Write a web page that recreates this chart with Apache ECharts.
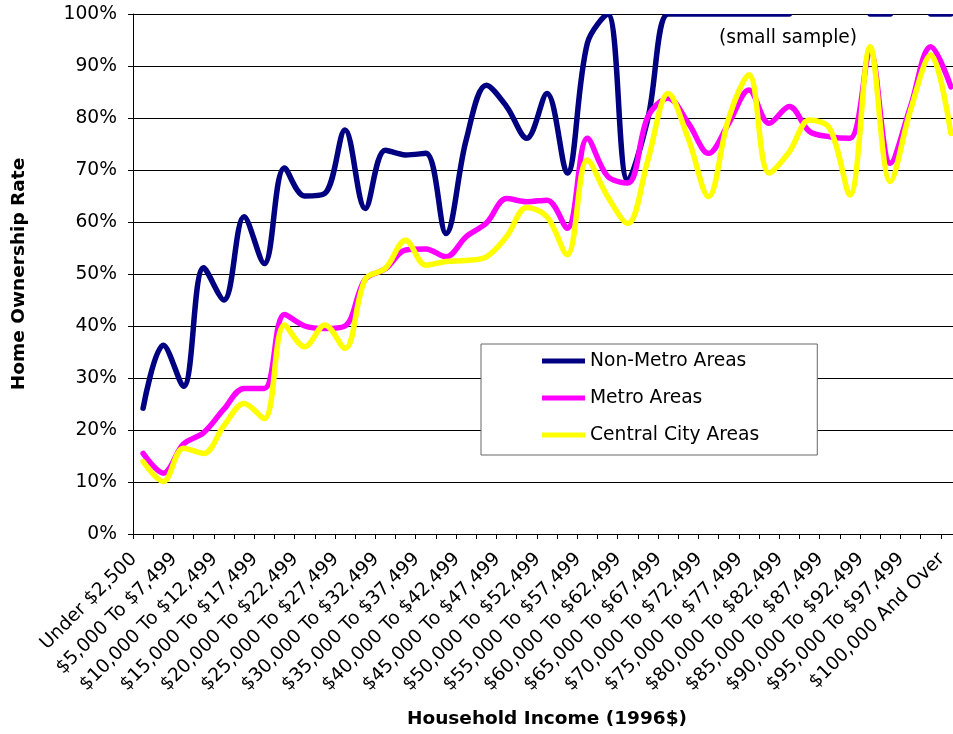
<!DOCTYPE html>
<html>
<head>
<meta charset="utf-8">
<title>Home Ownership Rate by Household Income</title>
<script src="https://cdn.jsdelivr.net/npm/echarts@6/dist/echarts.min.js"></script>
<style>
  html, body { margin: 0; padding: 0; overflow: hidden; background: #fff; }
  #chart { width: 962px; height: 734px; }
</style>
</head>
<body>
<div id="chart"></div>
<script>
// Income brackets (1996 dollars)
const incomeBrackets = [
  'Under $2,500', '$2,500 To $4,999', '$5,000 To $7,499', '$7,500 To $9,999',
  '$10,000 To $12,499', '$12,500 To $14,999', '$15,000 To $17,499', '$17,500 To $19,999',
  '$20,000 To $22,499', '$22,500 To $24,999', '$25,000 To $27,499', '$27,500 To $29,999',
  '$30,000 To $32,499', '$32,500 To $34,999', '$35,000 To $37,499', '$37,500 To $39,999',
  '$40,000 To $42,499', '$42,500 To $44,999', '$45,000 To $47,499', '$47,500 To $49,999',
  '$50,000 To $52,499', '$52,500 To $54,999', '$55,000 To $57,499', '$57,500 To $59,999',
  '$60,000 To $62,499', '$62,500 To $64,999', '$65,000 To $67,499', '$67,500 To $69,999',
  '$70,000 To $72,499', '$72,500 To $74,999', '$75,000 To $77,499', '$77,500 To $79,999',
  '$80,000 To $82,499', '$82,500 To $84,999', '$85,000 To $87,499', '$87,500 To $89,999',
  '$90,000 To $92,499', '$92,500 To $94,999', '$95,000 To $97,499', '$97,500 To $99,999',
  '$100,000 And Over'
];

// Home ownership rate (%) per bracket; null = not reported (small sample)
const nonMetroAreas = [
  24.2, 36.3, 28.4, 51.2, 45.0, 61.0, 52.0, 70.4, 65.0, 65.5,
  77.7, 62.6, 73.8, 72.9, 73.2, 57.8, 75.8, 86.3, 82.2, 76.1,
  84.7, 69.4, 94.4, 100, 68.0, 80.0, 100, 100, 100, 100,
  100, 100, 100, null, null, null, 100, 100, null, 100,
  100
];

const metroAreas = [
  15.5, 11.7, 17.3, 19.5, 24.0, 28.0, 28.0, 42.2, 40.0, 39.5,
  40.0, 49.0, 51.0, 54.6, 54.8, 53.3, 57.2, 59.8, 64.5, 63.9,
  64.2, 58.8, 76.1, 68.8, 67.5, 80.3, 83.8, 79.0, 73.2, 79.0,
  85.4, 79.0, 82.2, 77.4, 76.4, 76.1, 92.8, 71.3, 82.2, 93.7,
  86.0
];

const centralCityAreas = [
  13.9, 10.1, 16.5, 15.5, 20.8, 25.1, 22.2, 40.2, 36.0, 40.2,
  35.7, 49.0, 51.1, 56.5, 51.7, 52.4, 52.6, 53.3, 57.2, 62.8,
  61.0, 53.7, 71.9, 64.9, 59.7, 72.0, 84.7, 76.0, 64.9, 80.0,
  88.3, 69.4, 73.5, 79.6, 78.0, 65.2, 93.7, 67.8, 81.5, 92.1,
  77.0
];

const seriesNames = ['Non-Metro Areas', 'Metro Areas', 'Central City Areas'];
const seriesColors = ['#000080', '#FF00FF', '#FFFF00'];
const seriesValues = [nonMetroAreas, metroAreas, centralCityAreas];

const FONT = 'DejaVu Sans';
const LABEL_SIZE = 18.7;
const TITLE_SIZE = 18.5;

const chart = echarts.init(document.getElementById('chart'), null, { renderer: 'canvas' });

chart.setOption({
  animation: false,
  backgroundColor: '#ffffff',
  textStyle: { fontFamily: FONT, color: '#000' },
  grid: {
    left: 133, right: 1, top: 14, bottom: 200,
    containLabel: false,
    outerBoundsMode: 'none'
  },
  legend: {
    orient: 'vertical',
    left: 481, top: 344,
    padding: [7, 58, 10, 61],
    itemGap: 17,
    itemWidth: 43, itemHeight: 5,
    icon: 'rect',
    backgroundColor: '#fff',
    borderColor: '#666',
    borderWidth: 1,
    selectedMode: false,
    textStyle: { fontFamily: FONT, fontSize: LABEL_SIZE, color: '#000', lineHeight: 20 },
    data: seriesNames
  },
  xAxis: {
    type: 'category',
    data: incomeBrackets,
    boundaryGap: true,
    name: 'Household Income (1996$)',
    nameLocation: 'middle',
    nameGap: 176,
    nameTextStyle: { fontFamily: FONT, fontSize: TITLE_SIZE, fontWeight: 'bold', color: '#000' },
    axisLine: { show: true, lineStyle: { color: '#000', width: 1 } },
    axisTick: { show: true, interval: 0, length: 5, inside: false, lineStyle: { color: '#000' } },
    axisLabel: {
      interval: 1,
      rotate: 45,
      margin: 13,
      padding: [0, 13, 0, 0],
      fontFamily: FONT, fontSize: LABEL_SIZE, color: '#000',
      hideOverlap: false
    },
    splitLine: { show: false }
  },
  yAxis: {
    type: 'value',
    min: 0, max: 100, interval: 10,
    name: 'Home Ownership Rate',
    nameLocation: 'middle',
    nameGap: 104,
    nameTextStyle: { fontFamily: FONT, fontSize: TITLE_SIZE, fontWeight: 'bold', color: '#000' },
    axisLine: { show: true, lineStyle: { color: '#000', width: 1 } },
    axisTick: { show: true, length: 5, inside: false, lineStyle: { color: '#000' } },
    axisLabel: {
      formatter: '{value}%',
      margin: 16,
      fontFamily: FONT, fontSize: LABEL_SIZE, color: '#000'
    },
    splitLine: { show: true, lineStyle: { color: '#000', width: 1 } }
  },
  graphic: [
    {
      // keeps the plot's top edge crisp: lines reaching 100% are trimmed at the frame
      type: 'rect',
      z: 100,
      silent: true,
      shape: { x: 134, y: 0, width: 830, height: 14 },
      style: { fill: '#ffffff' }
    },
    {
      type: 'text',
      z: 101,
      x: 788, y: 38,
      style: {
        text: '(small sample)',
        font: LABEL_SIZE + 'px "DejaVu Sans"',
        fill: '#000',
        textAlign: 'center',
        textVerticalAlign: 'middle'
      }
    }
  ],
  series: seriesNames.map((name, i) => ({
    name: name,
    type: 'line',
    data: seriesValues[i],
    smooth: 0.35,
    symbol: 'none',
    connectNulls: false,
    z: 2 + i,
    color: seriesColors[i],
    lineStyle: { color: seriesColors[i], width: 5.5, cap: 'round', join: 'round' },
    emphasis: { disabled: true }
  }))
});
</script>
</body>
</html>
